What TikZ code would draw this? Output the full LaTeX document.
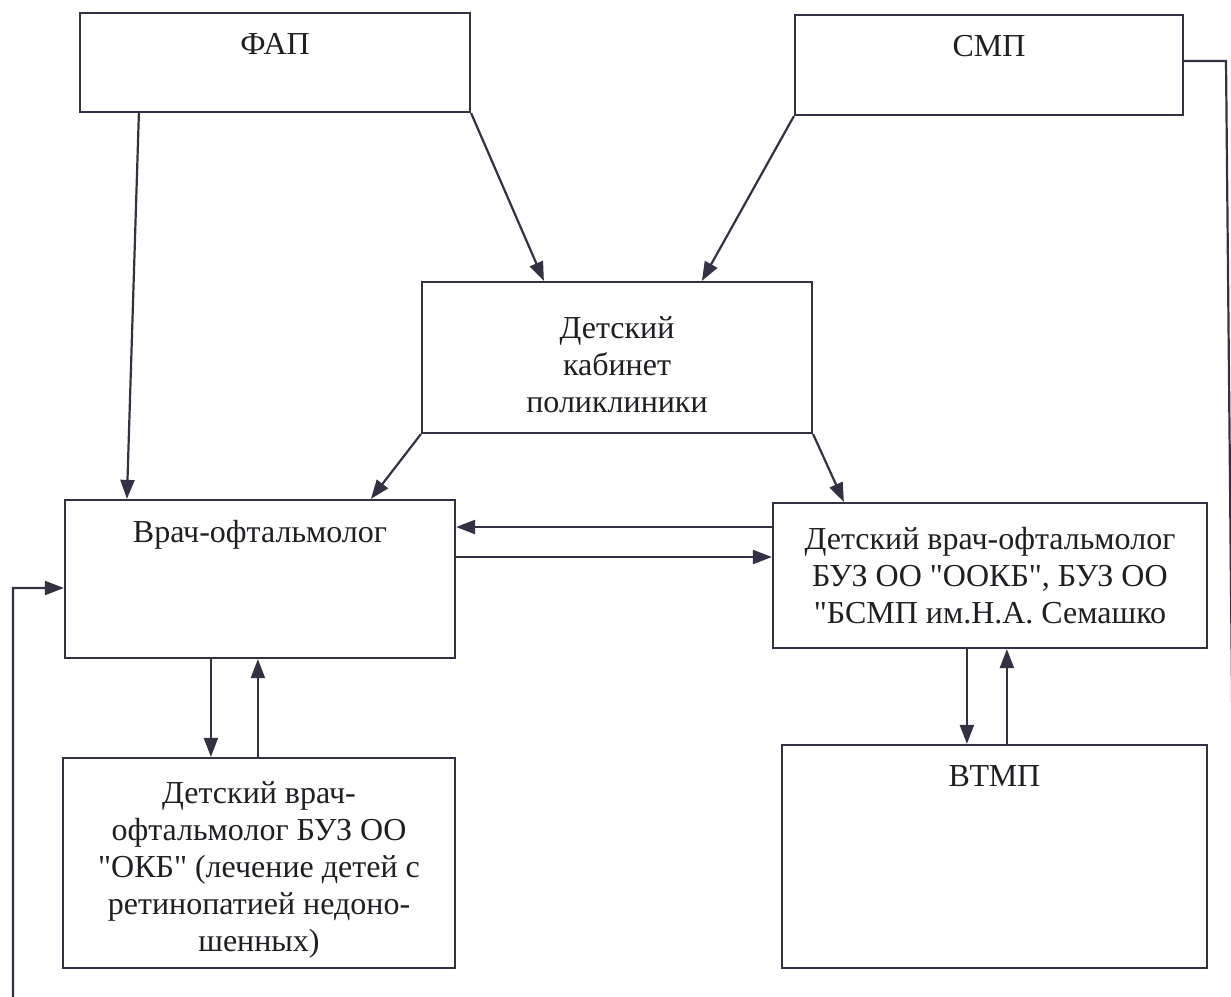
\documentclass[tikz,border=0pt]{standalone}
\usepackage{fontspec}
\setmainfont{Liberation Serif}
\usetikzlibrary{positioning}
\usetikzlibrary{arrows.meta}
\definecolor{ink}{RGB}{50,50,68}
\definecolor{txt}{RGB}{30,30,35}
\newcommand{\qq}{\textquotedbl}
\tikzset{
    mybox/.style = {rectangle, draw=ink, line width=2.2pt, align=center, text=txt, inner sep=0pt},
    mytext/.style = {align=center, text=txt, inner sep=0pt},
    toplbl/.style = {anchor=north, inner sep=0pt, yshift=-21pt, text=txt},
    edgen/.style = {-{Triangle[length=19pt,width=14pt]}, line width=2.2pt, draw=ink},
    every node/.style = {font=\fontsize{32}{37}\selectfont}
}
\begin{document}
\begin{tikzpicture}[x=1pt,y=-1pt]
\useasboundingbox (0,0) rectangle (1231,996);
%
\node[mybox, minimum width=390pt, minimum height=99pt, label={[toplbl]north:ФАП}] at (275,62.5) (fap) {};
\node[mybox, minimum width=388pt, minimum height=100pt, label={[toplbl]north:СМП}] at (989,65) (smp) {};
\node[mybox, minimum width=390pt, minimum height=151pt] at (617,357.5) (kab) {};
\node[mytext] at ([yshift=-7pt]kab.center) (kabt) {Детский\\кабинет\\поликлиники};
\node[mybox, minimum width=390pt, minimum height=158pt, label={[toplbl]north:Врач-офтальмолог}] at (260,579) (vrach) {};
\node[mybox, minimum width=434pt, minimum height=145pt] at (990,575.5) (ookb) {Детский врач-офтальмолог\\БУЗ ОО \qq ООКБ\qq, БУЗ ОО\\\qq БСМП им.Н.А. Семашко};
\node[mybox, minimum width=392pt, minimum height=210pt] at (259,863) (okb) {};
\node[mytext] at ([yshift=-7pt]okb.center) (okbt) {Детский врач-\\офтальмолог БУЗ ОО\\\qq ОКБ\qq{} (лечение детей с\\ретинопатией недоно-\\шенных)};
\node[mybox, minimum width=425pt, minimum height=223pt, label={[toplbl]north:ВТМП}] at (994.5,856.5) (vtmp) {};
%
\coordinate (cr) at (1226,61);
\coordinate (br) at (1235,1010);
\coordinate (bl) at (13,1010);
%
\draw[edgen] ([xshift=60pt]fap.south west) -- ([xshift=63pt]vrach.north west);
\draw[edgen] (fap.south east) -- ([xshift=123pt]kab.north west);
\draw[edgen] (smp.south west) -- ([xshift=281pt]kab.north west);
\draw[edgen] (kab.south west) -- ([xshift=307pt]vrach.north west);
\draw[edgen] (kab.south east) -- ([xshift=72pt]ookb.north west);
\draw[edgen] ([yshift=48.5pt]ookb.west) -- ([yshift=48.5pt]ookb.west -| vrach.east);
\draw[edgen] ([yshift=18.5pt]ookb.west -| vrach.east) -- ([yshift=18.5pt]ookb.west);
\draw[edgen] ([xshift=147pt]vrach.south west) -- ([xshift=147pt]vrach.south west |- okb.north);
\draw[edgen] ([xshift=196pt]okb.north west) -- ([xshift=196pt]okb.north west |- vrach.south);
\draw[edgen] ([xshift=195pt]ookb.south west) -- ([xshift=195pt]ookb.south west |- vtmp.north);
\draw[edgen] ([xshift=226pt]vtmp.north west) -- ([xshift=226pt]vtmp.north west |- ookb.south);
\draw[edgen] ([yshift=4pt]smp.east) -- (cr) -- (br) -- (bl) |- ([yshift=-9pt]vrach.west);
\end{tikzpicture}
\end{document}
